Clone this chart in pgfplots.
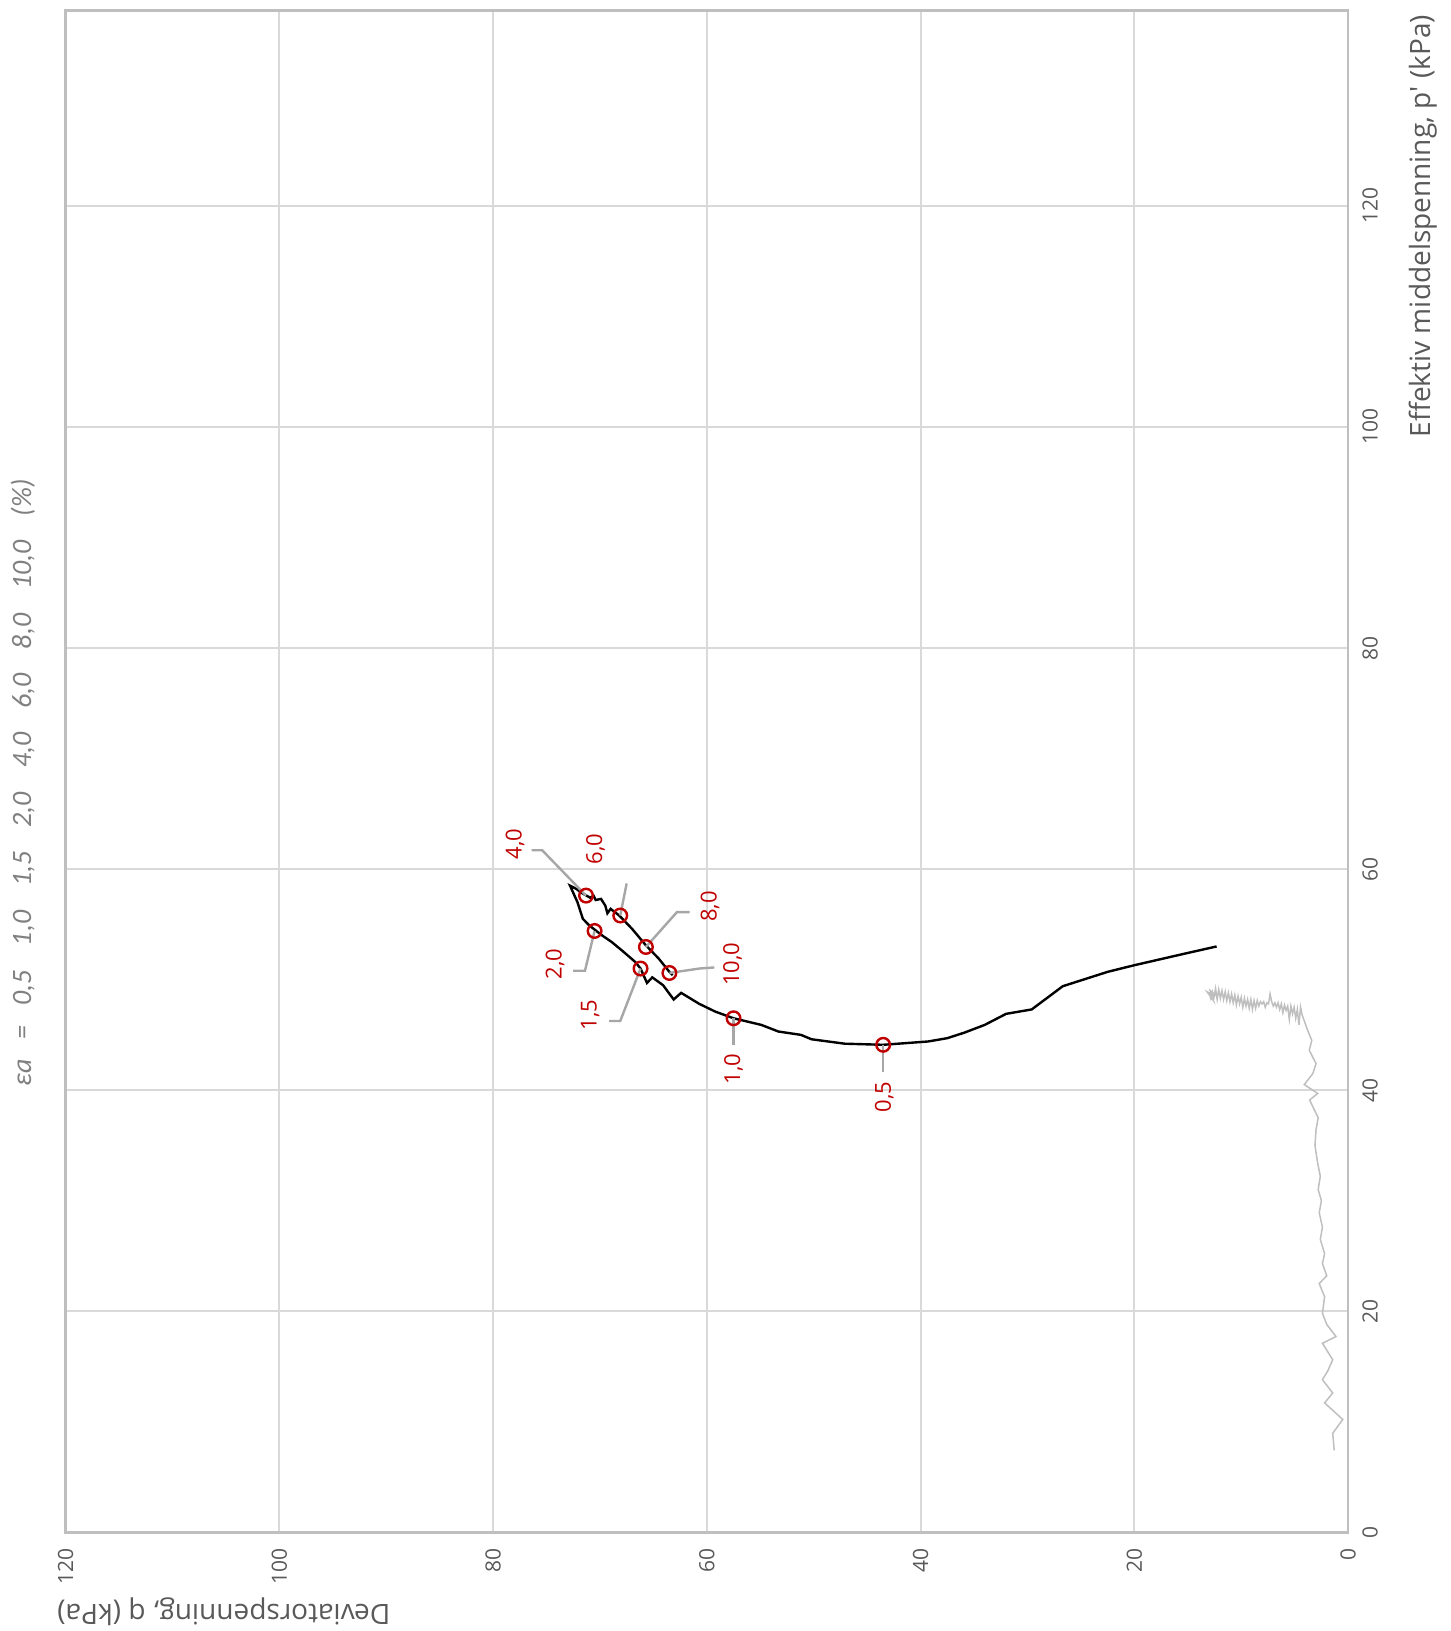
\documentclass[border=0pt]{standalone}
\usepackage{fontspec}
\setmainfont{Open Sans}
\newfontfamily\titlefont{Carlito}
\usepackage{pgfplots}
\pgfplotsset{compat=1.18}
\definecolor{txt}{HTML}{595959}
\definecolor{titlec}{HTML}{808080}
\definecolor{redc}{HTML}{C00000}
\definecolor{gridc}{HTML}{D9D9D9}
\definecolor{framec}{HTML}{BFBFBF}
\definecolor{greyc}{HTML}{BFBFBF}
\definecolor{leadc}{HTML}{A6A6A6}
\tikzset{red label/.style={rotate=90, text=redc, inner sep=0pt, font=\fontsize{11}{13}\selectfont}}
\begin{document}
\begin{tikzpicture}
\useasboundingbox (0,0) rectangle (725pt,815.5pt);
\begin{axis}[
  at={(674.05pt,49.4pt)}, anchor=origin,
  x={(0pt,5.526pt)}, y={(-5.344pt,0pt)},
  xmin=0, xmax=137.7, ymin=0, ymax=120,
  xtick={0,20,...,120}, ytick={0,20,...,120},
  xticklabel pos=upper, yticklabel pos=upper,
  grid=major, major grid style={line width=1pt, draw=gridc},
  axis line style={line width=1.3pt, draw=framec},
  major tick length=0pt, tick style={draw=none},
  /pgf/number format/assume math mode=true,
  ticklabel style={font=\fontsize{10.5}{12}\selectfont, text=txt, inner sep=0pt},
  xticklabel style={rotate=90, anchor=north},
  yticklabel style={rotate=90, anchor=east},
  xticklabel shift=7pt, yticklabel shift=8pt,
  clip=false,
]
% grey path
\addplot[greyc, line width=0.75pt, mark=none] coordinates {
(7.4,1.3)(8.95,1.44)(10.2,0.5)(11.7,2.2)(12.6,1.44)(13.8,2.4)(14.6,1.9)(15.6,1.44)(17.1,2.4)(17.7,1.13)(18.8,2.0)(19.8,2.4)(21.3,2.2)(22.5,2.7)(23.2,2.0)(24.3,2.4)(25.2,2.2)(26.5,2.6)(27.6,2.4)(28.9,2.7)(30.0,2.5)(31.0,2.8)(32.2,2.6)(33.4,2.85)(35.0,3.1)(36.4,3.0)(37.5,2.8)(39.1,3.6)(39.7,2.85)(40.5,4.1)(41.5,3.3)(42.4,3.0)(43.6,3.63)(44.5,3.4)(45.4,3.78)
(46.8,4.3)(47.5,4.45)(45.9,4.6)(47.3,4.75)(46.5,4.9)(47.5,5.05)(46.9,5.2)(47.6,5.35)(46.4,5.5)(47.6,5.65)(47.2,5.8)(47.7,5.95)(47.0,6.1)(47.8,6.25)(47.3,6.4)(47.9,6.55)(47.5,6.7)(47.9,6.85)(47.6,7.0)(48.0,7.15)(48.7,7.3)(47.8,7.45)(47.9,7.6)(47.5,7.75)(48.0,7.9)(47.8,8.05)(48.0,8.2)(47.6,8.35)(48.1,8.5)(47.4,8.65)(48.1,8.8)(47.3,8.95)(48.2,9.1)(47.4,9.25)(48.2,9.4)(47.6,9.55)(48.3,9.7)(47.5,9.85)(48.4,10.0)(47.8,10.15)(48.5,10.3)(47.7,10.45)(48.6,10.6)(47.9,10.75)(48.7,10.9)(48.0,11.05)(48.8,11.2)(48.1,11.35)(48.9,11.5)(48.2,11.65)(49.0,11.8)(48.3,11.95)(49.1,12.1)(48.2,12.25)(49.2,12.4)(48.4,12.55)(48.9,12.7)(48.3,12.85)(48.8,13.0)(48.9,13.2)(48.1,12.6)(49.0,12.9)(48.5,12.3)
};
% black path
\addplot[black, line width=1.2pt, mark=none] coordinates {
(53.0,12.3)(52.3,15.5)(51.3,20.0)(50.7,22.5)(49.4,26.7)(47.3,29.6)(46.9,32.0)(45.9,34.0)(45.2,35.9)(44.7,37.5)(44.4,39.3)(44.1,43.5)(44.2,47.1)(44.6,50.2)(45.0,51.2)(45.3,53.3)(45.9,54.9)(46.5,57.5)(47.1,59.2)(47.8,60.7)(48.8,62.4)(48.2,63.1)(49.5,64.1)(50.2,65.1)(49.7,65.6)(51.0,66.2)(51.6,66.7)(52.6,67.9)(53.4,68.9)(54.0,69.8)(54.9,71.0)(55.5,71.6)(57.0,72.1)(58.5,72.8)(58.2,72.2)(57.9,71.8)(57.4,70.9)(57.6,70.6)(57.2,70.4)(57.3,69.9)(56.7,69.5)(56.0,69.3)(56.4,69.0)(55.8,68.2)(54.6,67.0)(53.1,65.7)(51.9,64.5)(50.7,63.5)(50.4,63.2)
};
% leaders
\addplot[leadc, line width=1.2pt, mark=none] coordinates {(44.1,43.5)(41.6,43.5)};
\addplot[leadc, line width=1.2pt, mark=none] coordinates {(46.5,57.5)(44.05,57.5)};
\addplot[leadc, line width=1.2pt, mark=none] coordinates {(51.0,66.2)(46.25,68.1)(46.25,69.15)};
\addplot[leadc, line width=1.2pt, mark=none] coordinates {(54.4,70.5)(50.8,71.4)(50.8,72.5)};
\addplot[leadc, line width=1.2pt, mark=none] coordinates {(57.6,71.3)(61.7,75.4)(61.7,76.4)};
\addplot[leadc, line width=1.2pt, mark=none] coordinates {(55.8,68.1)(58.7,67.5)};
\addplot[leadc, line width=1.2pt, mark=none] coordinates {(52.95,65.7)(56.1,62.8)(56.1,61.6)};
\addplot[leadc, line width=1.2pt, mark=none] coordinates {(50.6,63.5)(51.0,60.7)(51.1,59.3)};
% markers
\addplot[only marks, mark=o, mark size=3.4pt, mark options={draw=redc, line width=1.2pt}] coordinates {
(44.1,43.5)(46.5,57.5)(51.0,66.2)(54.4,70.5)(57.6,71.3)(55.8,68.1)(52.95,65.7)(50.6,63.5)
};
\node[red label] at (axis cs:39.4,43.4) {0,5};
\node[red label] at (axis cs:41.9,57.5) {1,0};
\node[red label] at (axis cs:46.8,70.9) {1,5};
\node[red label] at (axis cs:51.4,74.2) {2,0};
\node[red label] at (axis cs:62.27,77.95) {4,0};
\node[red label] at (axis cs:61.8,70.4) {6,0};
\node[red label] at (axis cs:56.6,59.7) {8,0};
\node[red label] at (axis cs:51.4,57.6) {10,0};
% axis titles
\node[rotate=90, anchor=east, inner sep=0pt, text=txt, font=\fontsize{14}{16}\selectfont] at (axis cs:137.3,-7.0) {Effektiv middelspenning, p\textquotesingle{} (kPa)};
\node[rotate=180, anchor=east, inner sep=0pt, text=txt, font=\fontsize{14}{16}\selectfont] at (axis cs:-7.2,120.8) {Deviatorspenning, q (kPa)};
\node[rotate=90, inner sep=0pt, text=titlec, font=\titlefont\itshape\fontsize{14}{16}\selectfont] at (axis cs:67.8,124.0) {εa\hspace{10pt}=\hspace{10pt}0,5\hspace{12pt}1,0\hspace{12pt}1,5\hspace{12pt}2,0\hspace{12pt}4,0\hspace{12pt}6,0\hspace{12pt}8,0\hspace{12pt}10,0\hspace{12pt}(\%)};
\end{axis}
\end{tikzpicture}
\end{document}
